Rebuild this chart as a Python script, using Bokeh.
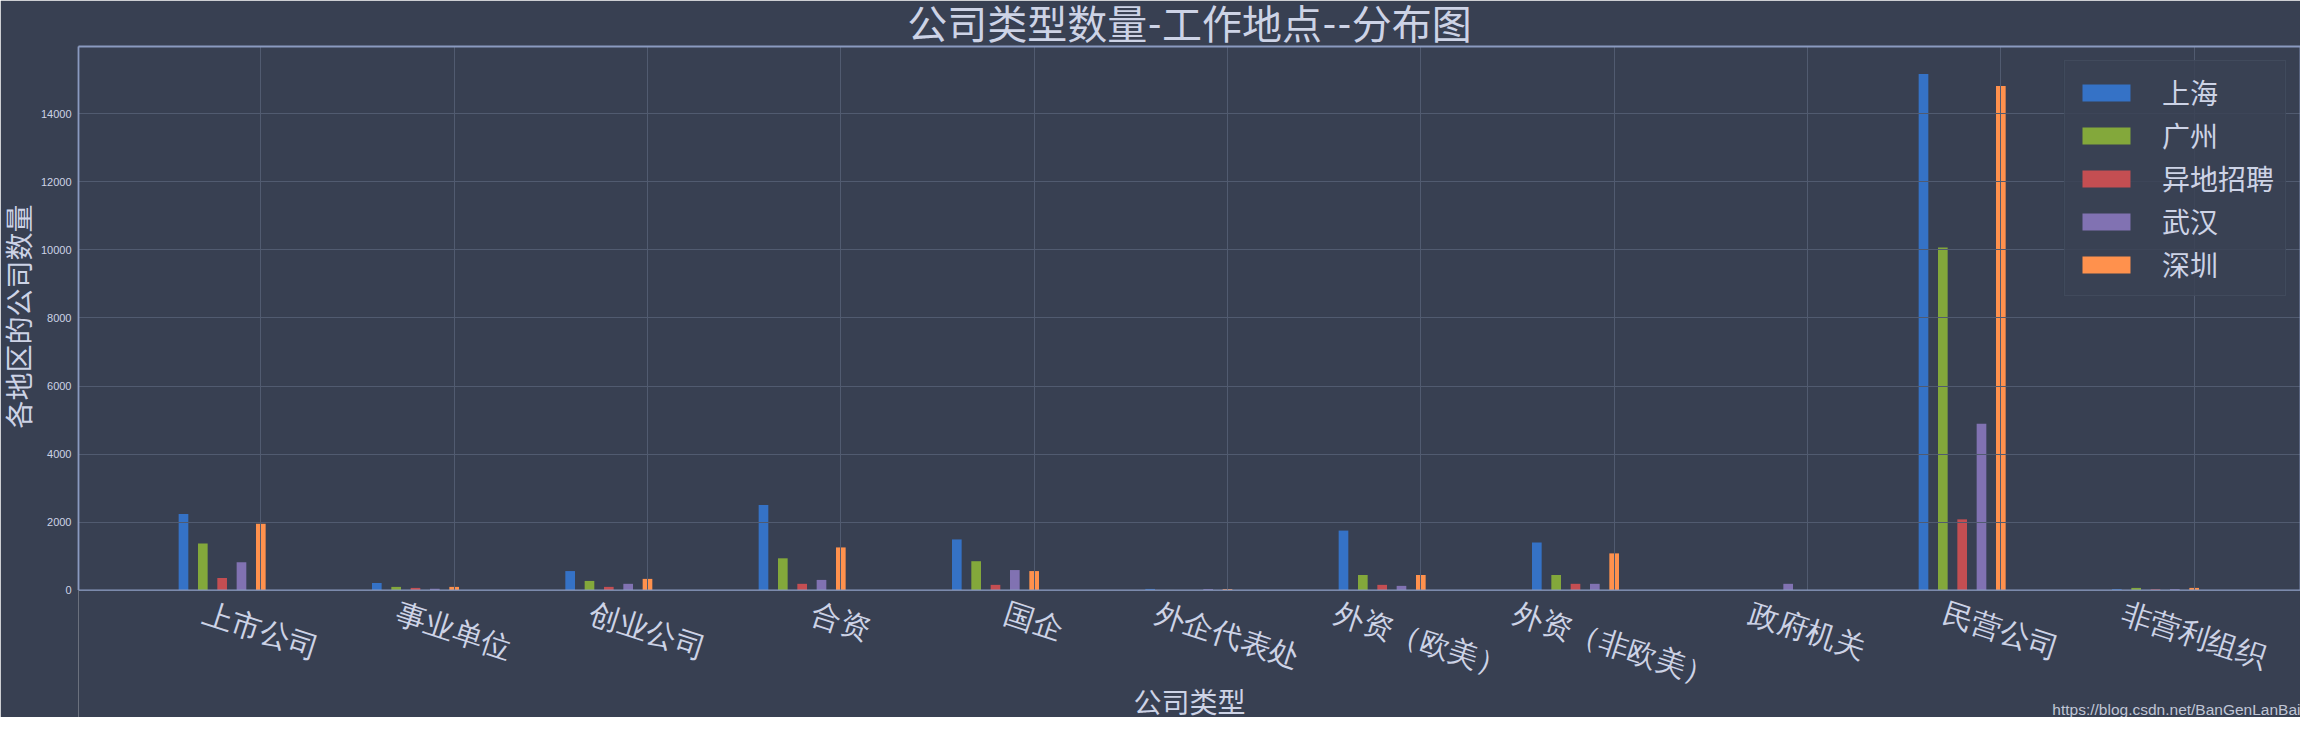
import math
from bokeh.plotting import figure
from bokeh.models import (ColumnDataSource, Range1d, FixedTicker, Legend, LegendItem,
                          Title, LabelSet, Label, Grid)
from bokeh.transform import dodge
from bokeh.embed import file_html
from bokeh.resources import INLINE

# ---------------- data ----------------
categories = ["上市公司", "事业单位", "创业公司", "合资", "国企", "外企代表处",
              "外资（欧美）", "外资（非欧美）", "政府机关", "民营公司", "非营利组织"]
series_names = ["上海", "广州", "异地招聘", "武汉", "深圳"]
shanghai = [2240, 210, 560, 2500, 1490, 35, 1750, 1400, 0, 15170, 30]
guangzhou = [1370, 95, 270, 935, 850, 5, 445, 445, 0, 10070, 65]
yidi = [355, 65, 95, 185, 155, 3, 155, 185, 0, 2080, 25]
wuhan = [820, 40, 185, 300, 590, 30, 125, 185, 185, 4890, 30]
shenzhen = [1950, 95, 330, 1255, 560, 30, 445, 1080, 0, 14820, 65]
y_ticks = [0, 2000, 4000, 6000, 8000, 10000, 12000, 14000]
title_text = "公司类型数量-工作地点--分布图"
x_label = "公司类型"
y_label = "各地区的公司数量"
watermark = "https://blog.csdn.net/BanGenLanBai"

# ---------------- style / layout ----------------
BG = "#384052"
GRID = "#515b70"
SPINE = "#8a9ac0"
TXT = "#cdd3e6"
CJK = "Lato, 'Noto Sans CJK SC'"
colors = ["#3572c6", "#83a83b", "#c44e52", "#8172b2", "#ff914d"]
offsets = [-0.4, -0.3, -0.2, -0.1, 0.0]
bar_w = 0.05
X0, X1 = -0.943, 10.55
YMAX = 15980
W, H = 2300, 717
TOP, ZERO = 47, 589          # page pixel rows of the plot top and of the y=0 line
FB = 8 + H - 9               # page pixel row where the drawing frame ends
Y0 = -YMAX * (FB - ZERO) / (ZERO - TOP)   # area below y=0 holds the category texts

xs = list(range(len(categories)))
source = ColumnDataSource(dict(x=xs, s0=shanghai, s1=guangzhou, s2=yidi, s3=wuhan, s4=shenzhen))

p = figure(width=W, height=H, output_backend="svg", toolbar_location=None,
           x_range=Range1d(X0, X1), y_range=Range1d(Y0, YMAX), x_axis_location=None,
           min_border_left=70, min_border_right=0, min_border_top=39, min_border_bottom=0)
p.background_fill_color = BG
p.border_fill_color = BG
p.outline_line_color = None

renderers = []
for i, name in enumerate(series_names):
    r = p.vbar(x=dodge("x", offsets[i], range=p.x_range), top="s%d" % i, width=bar_w,
               source=source, fill_color=colors[i], line_color=None)
    renderers.append(r)

# ---- y axis (ticks only) ----
ya = p.yaxis[0]
ya.ticker = FixedTicker(ticks=y_ticks)
ya.bounds = (0, YMAX)
ya.axis_line_color = None
ya.major_tick_line_color = None
ya.major_tick_out = 0
ya.minor_tick_line_color = None
ya.minor_tick_out = 0
ya.major_label_standoff = 7
ya.major_label_text_font = "Liberation Sans"
ya.major_label_text_font_size = "11px"
ya.major_label_text_color = TXT

# y axis title, placed along the value span of the axis
p.add_layout(Title(text=y_label, align="right", offset=158, vertical_align="middle",
                   text_font=CJK, text_font_size="28px", text_font_style="normal",
                   text_color=TXT, standoff=1), "left")

# ---- grids (over the bars, like the reference) ----
xg = p.xgrid[0]
xg.ticker = FixedTicker(ticks=xs)
yg = p.ygrid[0]
yg.ticker = FixedTicker(ticks=y_ticks)
for g in (xg, yg):
    g.grid_line_color = GRID
    g.grid_line_width = 1
    g.level = "guide"
if "cross_bounds" in Grid.properties():
    xg.cross_bounds = (0, YMAX)
else:
    xg.visible = False
    p.segment(x0=xs, y0=[0] * len(xs), x1=xs, y1=[YMAX] * len(xs), line_color=GRID, line_width=1)

# ---- spines round the value area (edge ones are half-clipped by the frame) ----
edge = p.segment(x0=[X0, X1, X0], y0=[0, 0, YMAX], x1=[X0, X1, X1], y1=[YMAX, YMAX, YMAX],
                 line_color=SPINE, line_width=1.8)
edge.level = "annotation"
base = p.segment(x0=[X0], y0=[0], x1=[X1], y1=[0], line_color=SPINE, line_width=1.2)
base.level = "annotation"

# ---- category labels below the y=0 line (rotated, centred on each category) ----
fs = 30
theta = math.radians(18)
gap = 7
label_centre = [ZERO + gap + (len(c) * fs * math.sin(theta) + fs * math.cos(theta)) / 2 for c in categories]
lab_src = ColumnDataSource(dict(x=xs, y=[FB - c for c in label_centre], text=categories))
p.add_layout(LabelSet(x="x", y="y", y_units="screen", text="text", source=lab_src,
                      angle=-theta, text_align="center", text_baseline="middle",
                      text_font=CJK, text_font_size="%dpx" % fs, text_color=TXT))

# x axis title and watermark
p.add_layout(Label(x=(X0 + X1) / 2, y=FB - 700, y_units="screen", text=x_label,
                   text_align="center", text_baseline="middle", text_font=CJK,
                   text_font_size="28px", text_color=TXT))
p.add_layout(Label(x=X1, y=FB - 708, y_units="screen", text=watermark,
                   text_align="right", text_baseline="middle", text_font="Liberation Sans",
                   text_font_size="15.5px", text_color="#c0c6d6"))

# ---- title ----
p.title.text = title_text
p.title.align = "center"
p.title.vertical_align = "middle"
p.title.text_font = CJK
p.title.text_font_size = "40px"
p.title.text_font_style = "normal"
p.title.text_color = TXT
p.title.standoff = -4

# ---- legend ----
legend = Legend(items=[LegendItem(label=n, renderers=[r]) for n, r in zip(series_names, renderers)],
                location="top_right", margin=14, padding=11, spacing=3,
                glyph_width=60, glyph_height=21, label_standoff=26, label_height=21,
                label_text_font=CJK, label_text_font_size="28px", label_text_color=TXT,
                background_fill_color="#3a4254", background_fill_alpha=0.85,
                border_line_color="#4a5366", border_line_width=1.5)
p.add_layout(legend)

open("out.html", "w").write(file_html(p, INLINE))
